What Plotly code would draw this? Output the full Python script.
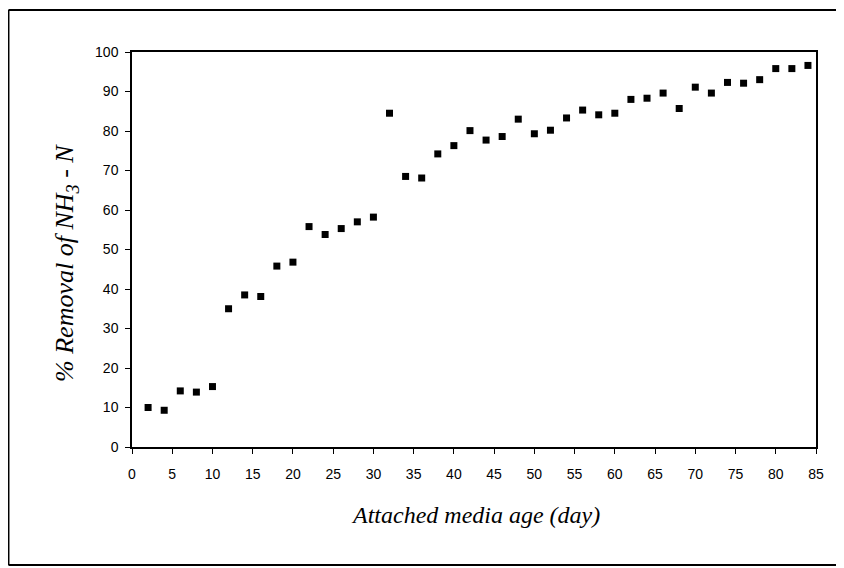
import plotly.graph_objects as go

# Attached media age (day)
days = [2, 4, 6, 8, 10, 12, 14, 16, 18, 20, 22, 24, 26, 28, 30, 32, 34, 36, 38, 40, 42,
        44, 46, 48, 50, 52, 54, 56, 58, 60, 62, 64, 66, 68, 70, 72, 74, 76, 78, 80, 82, 84]
# % Removal of NH3-N
removal = [10.0, 9.3, 14.2, 13.9, 15.3, 35.0, 38.5, 38.1, 45.8, 46.8, 55.8, 53.8, 55.3, 57.0, 58.2,
           84.5, 68.5, 68.1, 74.2, 76.3, 80.1,
           77.7, 78.6, 83.0, 79.3, 80.2, 83.3, 85.3, 84.1, 84.5, 88.0, 88.3, 89.6, 85.7,
           91.1, 89.6, 92.3, 92.1, 93.0, 95.8, 95.8, 96.6]

x_ticks = list(range(0, 90, 5))
y_ticks = list(range(0, 110, 10))
x_title = "<i>Attached media age (day)</i>"
y_title = "<i>% Removal of NH<sub>3</sub> - N</i>"

fig = go.Figure()
fig.add_trace(go.Scatter(
    x=days, y=removal, mode="markers",
    marker=dict(symbol="square", size=7, color="black"),
    showlegend=False,
))

tick_font = dict(family="Liberation Sans, Arial, sans-serif", size=14, color="black")
x_title_font = dict(family="Liberation Serif, Times New Roman, serif", size=24, color="black")
y_title_font = dict(family="Liberation Serif, Times New Roman, serif", size=26, color="black")

fig.update_xaxes(
    range=[0, 85], tickvals=x_ticks, ticktext=[str(v) for v in x_ticks],
    showgrid=False, zeroline=False,
    showline=True, linecolor="black", linewidth=1.5, mirror=True,
    ticks="outside", ticklen=5, tickcolor="black", tickwidth=1,
    tickfont=tick_font, ticklabelstandoff=8,
)
fig.update_yaxes(
    range=[0, 100], tickvals=y_ticks, ticktext=[str(v) for v in y_ticks],
    showgrid=False, zeroline=False,
    showline=True, linecolor="black", linewidth=1.5, mirror=True,
    ticks="outside", ticklen=5, tickcolor="black", tickwidth=1,
    tickfont=tick_font, ticklabelstandoff=4,
)

# axis titles
fig.add_annotation(text=x_title, xref="paper", yref="paper", x=0.5015, y=-0.172,
                   xanchor="center", yanchor="middle", showarrow=False, font=x_title_font)
fig.add_annotation(text=y_title, xref="paper", yref="paper", x=-0.0965, y=0.466,
                   xanchor="center", yanchor="middle", showarrow=False, font=y_title_font,
                   textangle=-90)

# outer frame of the chart area (left, top, bottom edges)
frame = dict(type="line", xref="paper", yref="paper", line=dict(color="black", width=2))
fig.add_shape(**frame, x0=-0.1806, x1=-0.1806, y0=-0.2987, y1=1.1063)
fig.add_shape(**frame, x0=-0.1806, x1=1.1, y0=1.1063, y1=1.1063)
fig.add_shape(**frame, x0=-0.1806, x1=1.1, y0=-0.2987, y1=-0.2987)

fig.update_layout(
    width=836, height=560,
    margin=dict(l=124, r=28, t=44, b=121),
    paper_bgcolor="white", plot_bgcolor="white",
)

fig.write_html("out.html")
